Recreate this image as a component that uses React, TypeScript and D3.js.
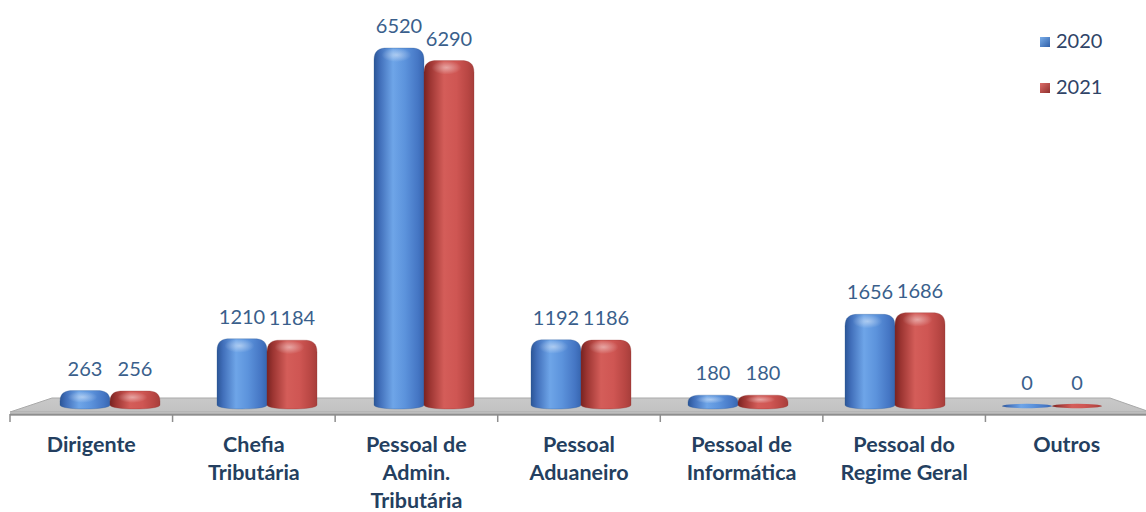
import React from "react";
import * as d3 from "d3";

const categories: string[][] = [
  ["Dirigente"],
  ["Chefia", "Tributária"],
  ["Pessoal de", "Admin.", "Tributária"],
  ["Pessoal", "Aduaneiro"],
  ["Pessoal de", "Informática"],
  ["Pessoal do", "Regime Geral"],
  ["Outros"],
];
const seriesNames = ["2020", "2021"];
const values2020 = [263, 1210, 6520, 1192, 180, 1656, 0];
const values2021 = [256, 1184, 6290, 1186, 180, 1686, 0];

const W = 1146;
const H = 512;
const FONT = "Lato, 'Open Sans', sans-serif";

export default function App() {
  const keys = categories.map((c) => c.join(" "));
  const series = [values2020, values2021];

  // front axis bands (labels & ticks)
  const xAxis = d3.scaleBand<string>().domain(keys).range([10, 1148]);
  // bar plane bands (set back in depth)
  const xBars = d3.scaleBand<string>().domain(keys).range([31.5, 1130.5]);
  const xSeries = d3.scaleBand<string>().domain(seriesNames).range([28.5, 128.5]);
  const baseY = 405;
  const y = d3.scaleLinear().domain([0, 6520]).range([baseY, 48]);

  const ry = 4; // bottom ellipse half-height

  const barPath = (x0: number, w: number, top: number) => {
    const x1 = x0 + w;
    const h = baseY - top;
    const cr = Math.min(13, w / 2 - 2);
    const cv = Math.min(12, Math.max(h * 0.75, 3));
    const p = d3.path();
    p.moveTo(x0, baseY);
    // bottom rim (front half of the cylinder base)
    p.bezierCurveTo(x0, baseY + ry * 1.33, x1, baseY + ry * 1.33, x1, baseY);
    p.lineTo(x1, top + cv);
    p.bezierCurveTo(x1, top + cv * 0.2, x1 - cr * 0.4, top, x1 - cr, top);
    p.lineTo(x0 + cr, top);
    p.bezierCurveTo(x0 + cr * 0.4, top, x0, top + cv * 0.2, x0, top + cv);
    p.closePath();
    return p.toString();
  };

  const fills = ["url(#gBlue)", "url(#gRed)"];
  const edge = ["#2a568f", "#8a2f2c"];

  return (
    <svg
      width={W}
      height={H}
      style={{ position: "absolute", left: 0, top: 0, background: "#ffffff" }}
      fontFamily={FONT}
    >
      <defs>
        <linearGradient id="gBlue" x1="0" x2="1" y1="0" y2="0">
          <stop offset="0%" stopColor="#2b5597" />
          <stop offset="12%" stopColor="#416fba" />
          <stop offset="38%" stopColor="#6ea5e8" />
          <stop offset="62%" stopColor="#5c93dc" />
          <stop offset="88%" stopColor="#4576c4" />
          <stop offset="100%" stopColor="#3766b0" />
        </linearGradient>
        <linearGradient id="gRed" x1="0" x2="1" y1="0" y2="0">
          <stop offset="0%" stopColor="#782321" />
          <stop offset="12%" stopColor="#9c3532" />
          <stop offset="40%" stopColor="#d45d59" />
          <stop offset="65%" stopColor="#cf5653" />
          <stop offset="88%" stopColor="#b84643" />
          <stop offset="100%" stopColor="#a63e3b" />
        </linearGradient>
        <radialGradient id="gShine" cx="0.5" cy="0.5" r="0.5">
          <stop offset="0%" stopColor="#ffffff" stopOpacity="0.45" />
          <stop offset="100%" stopColor="#ffffff" stopOpacity="0" />
        </radialGradient>
        <linearGradient id="gFloor" x1="0" x2="0" y1="0" y2="1">
          <stop offset="0%" stopColor="#c9c9c9" />
          <stop offset="100%" stopColor="#c2c2c2" />
        </linearGradient>
        <linearGradient id="lgBlue" x1="0" x2="1" y1="0" y2="1">
          <stop offset="0%" stopColor="#7aaeea" />
          <stop offset="100%" stopColor="#2f5fa8" />
        </linearGradient>
        <linearGradient id="lgRed" x1="0" x2="1" y1="0" y2="1">
          <stop offset="0%" stopColor="#dd6e6a" />
          <stop offset="100%" stopColor="#8f2f2c" />
        </linearGradient>
      </defs>

      {/* floor */}
      <polygon
        points="52,398 1110,398 1150,412 10,412"
        fill="url(#gFloor)"
        stroke="#a9a9a9"
        strokeWidth={1}
      />
      <rect x={10} y={412} width={1140} height={4} fill="#bdbdbd" />
      <line x1={10} x2={1150} y1={414.5} y2={414.5} stroke="#8e8e8e" strokeWidth={1.5} />
      {/* category ticks */}
      {[...keys.map((k) => xAxis(k) as number), 1148].map((tx, i) => (
        <line key={i} x1={tx} x2={tx} y1={414} y2={422} stroke="#8e8e8e" strokeWidth={1.5} />
      ))}

      {/* bars */}
      {keys.map((k, ci) =>
        series.map((vals, si) => {
          const v = vals[ci];
          const x0 = (xBars(k) as number) + (xSeries(seriesNames[si]) as number);
          const w = xSeries.bandwidth();
          const cx = x0 + w / 2;
          if (v === 0) {
            return (
              <ellipse
                key={`${ci}-${si}`}
                cx={cx}
                cy={baseY + 1}
                rx={w / 2}
                ry={2.2}
                fill={fills[si]}
              />
            );
          }
          const top = y(v);
          return (
            <g key={`${ci}-${si}`}>
              <path d={barPath(x0, w, top)} fill={fills[si]} stroke={edge[si]} strokeOpacity={0.35} strokeWidth={0.8} />
              <ellipse
                cx={x0 + w * 0.45}
                cy={top + Math.min(7, (baseY - top) * 0.45)}
                rx={w * 0.3}
                ry={Math.min(7, (baseY - top) * 0.4)}
                fill="url(#gShine)"
              />
            </g>
          );
        })
      )}

      {/* value labels */}
      {keys.map((k, ci) =>
        series.map((vals, si) => {
          const v = vals[ci];
          const x0 = (xBars(k) as number) + (xSeries(seriesNames[si]) as number);
          const cx = x0 + xSeries.bandwidth() / 2;
          return (
            <text
              key={`l-${ci}-${si}`}
              x={cx}
              y={y(v) - 15}
              textAnchor="middle"
              fontSize={20}
              fill="#3a5f8c"
            >
              {v}
            </text>
          );
        })
      )}

      {/* category labels */}
      {categories.map((lines, ci) => {
        const cx = (xAxis(keys[ci]) as number) + xAxis.bandwidth() / 2;
        return (
          <text key={`c-${ci}`} textAnchor="middle" fontSize={21.5} fontWeight={700} fill="#243f60">
            {lines.map((ln, li) => (
              <tspan key={li} x={cx} y={452 + li * 28}>
                {ln}
              </tspan>
            ))}
          </text>
        );
      })}

      {/* legend */}
      {seriesNames.map((name, si) => (
        <g key={`lg-${si}`} transform={`translate(1040, ${37 + si * 46})`}>
          <rect x={0} y={0} width={10} height={10} fill={si === 0 ? "url(#lgBlue)" : "url(#lgRed)"} />
          <text x={16} y={11} fontSize={20} fill="#2f4467">
            {name}
          </text>
        </g>
      ))}
    </svg>
  );
}
